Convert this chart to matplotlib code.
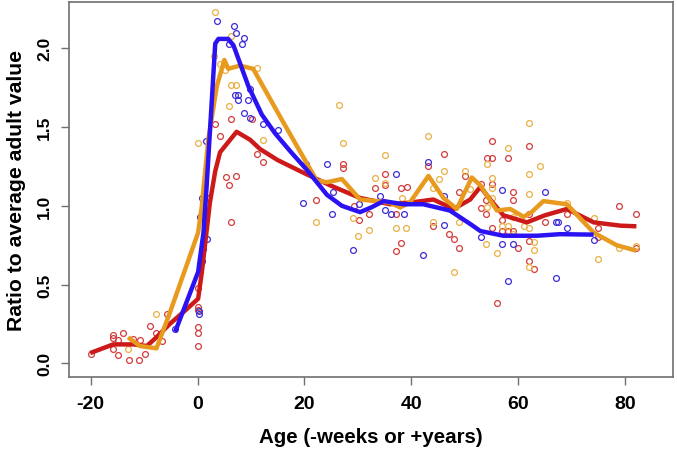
import matplotlib
matplotlib.use("Agg")
import matplotlib.pyplot as plt

plt.rcParams['font.family'] = ['Liberation Sans', 'DejaVu Sans']
plt.rcParams['font.weight'] = 'bold'
plt.rcParams['axes.unicode_minus'] = False

# smoothed curves (age, ratio)
red_line_x = [-20.1, -15.8, -12.0, -9.5, -7.7, -5.2, -2.5, 0.1, 0.8, 2.3, 3.3, 4.2, 7.3, 9.8, 11.7, 15.0,
              19.8, 24.8, 30.4, 36.0, 39.7, 44.1, 47.9, 51.0, 52.9, 55.0, 57.2, 61.6, 65.0, 69.1, 74.1, 79.1, 82.1]
red_line_y = [0.065, 0.12, 0.12, 0.11, 0.165, 0.25, 0.33, 0.41, 0.58, 1.02, 1.22, 1.34, 1.47, 1.42, 1.36, 1.29,
              1.21, 1.13, 1.05, 1.01, 1.02, 1.04, 0.98, 1.04, 1.12, 1.03, 0.94, 0.895, 0.94, 0.98, 0.895, 0.874, 0.87]

orange_line_x = [-13.0, -10.8, -7.7, -5.2, 0.1, 0.8, 2.0, 3.6, 5.0, 5.75, 7.9, 10.4, 15.7, 22.3, 24.2, 27.0,
                 30.4, 33.5, 36.0, 37.9, 39.7, 43.2, 46.0, 48.5, 51.3, 52.9, 56.0, 58.5, 61.0, 62.5, 64.7, 69.1,
                 74.1, 78.4, 82.1]
orange_line_y = [0.165, 0.11, 0.095, 0.32, 0.83, 1.0, 1.42, 1.76, 1.926, 1.87, 1.89, 1.87, 1.55, 1.16, 1.15, 1.17,
                 1.04, 1.03, 1.02, 0.99, 1.02, 1.19, 1.05, 0.98, 1.18, 1.13, 0.97, 0.98, 0.93, 0.96, 1.03, 1.01,
                 0.83, 0.75, 0.715]

blue_line_x = [-4.2, 0.1, 1.1, 1.7, 3.3, 3.9, 5.7, 6.7, 9.5, 12.0, 14.5, 17.5, 20.4, 24.2, 27.0, 30.4, 32.5,
               34.8, 38.5, 42.2, 47.2, 51.0, 52.9, 57.2, 63.5, 67.8, 74.1]
blue_line_y = [0.20, 0.58, 0.83, 1.13, 2.03, 2.06, 2.06, 2.02, 1.76, 1.58, 1.46, 1.34, 1.23, 1.07, 1.0, 0.96, 0.99,
               1.03, 1.01, 1.01, 0.97, 0.885, 0.84, 0.81, 0.81, 0.82, 0.817]

# individual samples
red_pts_x = [-20.0, -15.8, -15.9, -15.8, -14.8, -14.8, -13.9, -12.8, -12.0, -10.8, -10.9, -9.8, -8.9, -7.8,
             -6.7, -5.8, 0.1, 0.1, 0.1, 0.1, 0.1, 0.1, 3.3, 4.2, 5.3, 5.9, 7.2, 6.2, 6.2, 10.1, 11.1, 12.2,
             22.2, 27.2, 27.2, 29.3, 30.2, 32.1, 33.1, 35.1, 35.1, 37.1, 38.0, 39.1, 38.1, 37.1, 43.1, 46.1,
             44.0, 47.1, 48.0, 49.0, 49.0, 50.0, 55.0, 54.1, 55.0, 58.0, 62.0, 53.0, 55.0, 54.0, 53.0, 54.0,
             55.0, 57.0, 57.0, 58.0, 59.1, 59.1, 59.1, 60.0, 62.0, 62.0, 62.0, 63.0, 56.0, 65.0, 69.1, 75.0,
             75.0, 78.9, 82.1, 82.1]
red_pts_y = [0.06, 0.18, 0.16, 0.09, 0.05, 0.15, 0.19, 0.02, 0.155, 0.15, 0.02, 0.06, 0.24, 0.195,
             0.14, 0.31, 0.476, 0.355, 0.34, 0.23, 0.19, 0.11, 1.52, 1.445, 1.18, 1.13, 1.19, 0.895, 1.55, 1.55,
             1.33, 1.28, 1.04, 1.265, 1.24, 1.0, 0.91, 0.95, 1.11, 1.205, 1.13, 0.95, 1.11, 1.12, 0.765, 0.715,
             1.255, 1.33, 0.87, 0.82, 0.79, 0.73, 1.085, 1.19, 1.41, 1.305, 1.305, 1.305, 1.38, 1.14, 1.14,
             1.04, 0.985, 0.95, 0.86, 0.91, 0.84, 0.84, 1.085, 1.04, 0.84, 0.73, 0.945, 0.775, 0.65, 0.6, 0.38,
             0.895, 0.95, 0.86, 0.8, 1.0, 0.95, 0.735]

orange_pts_x = [-7.7, -13.0, 0.1, 3.3, 3.1, 4.1, 5.1, 6.2, 7.2, 5.9, 6.2, 11.1, 12.2, 22.2, 26.5, 27.2, 35.1,
                33.1, 35.1, 29.1, 30.1, 32.1, 37.1, 39.0, 43.1, 46.1, 45.1, 44.1, 44.0, 48.0, 49.0, 50.0, 38.2,
                62.0, 58.0, 54.1, 62.0, 64.0, 55.0, 55.0, 51.0, 54.1, 55.0, 59.1, 57.0, 58.0, 59.1, 54.0, 56.0,
                62.0, 62.0, 63.0, 63.0, 62.0, 61.0, 69.1, 74.1, 75.0, 78.9, 82.1]
orange_pts_y = [0.31, 0.09, 1.40, 2.23, 1.95, 1.90, 1.86, 1.77, 1.77, 1.635, 2.08, 1.875, 1.42, 0.9, 1.64, 1.40,
                1.32, 1.175, 1.145, 0.92, 0.81, 0.845, 0.86, 0.86, 1.445, 1.22, 1.17, 1.11, 0.9, 0.58, 0.895,
                1.22, 1.05, 1.525, 1.37, 1.265, 1.205, 1.255, 1.175, 1.11, 1.105, 0.99, 1.05, 0.93, 0.875, 0.875,
                0.82, 0.755, 0.70, 1.075, 0.86, 0.77, 0.72, 0.61, 0.875, 1.02, 0.92, 0.66, 0.735, 0.745]

blue_pts_x = [3.7, 6.8, 7.2, 8.7, 8.4, 5.9, 7.0, 7.6, 7.6, 9.5, 9.8, 8.6, 9.8, 1.6, 0.8, 1.8, 0.45, 1.8, 1.1,
              0.8, 0.45, 0.3, 0.3, -4.2, 12.2, 15.1, 20.2, 24.2, 19.8, 25.3, 25.2, 29.1, 30.2, 34.1, 35.1, 36.1,
              37.1, 38.6, 43.1, 42.1, 46.1, 46.1, 47.6, 57.0, 65.0, 53.0, 57.0, 59.1, 58.0, 67.1, 67.4, 69.1,
              67.0, 74.1]
blue_pts_y = [2.175, 2.14, 2.10, 2.065, 2.03, 2.03, 1.705, 1.705, 1.67, 1.67, 1.74, 1.59, 1.555, 1.41, 1.05,
              1.05, 0.93, 0.79, 0.725, 0.65, 0.63, 0.335, 0.31, 0.22, 1.52, 1.48, 1.265, 1.265, 1.02, 1.09,
              0.95, 0.72, 1.01, 1.065, 0.975, 0.945, 1.205, 0.95, 1.28, 0.69, 1.065, 0.88, 0.985, 1.10, 1.085,
              0.805, 0.76, 0.76, 0.52, 0.9, 0.9, 0.86, 0.54, 0.78]

fig = plt.figure(figsize=(6.77, 4.52), dpi=100)
ax = fig.add_axes([0.1024, 0.163, 0.8913, 0.8296])

pt_style = dict(marker='o', linestyle='none', markersize=4.2, markerfacecolor='none', markeredgewidth=0.9)
ax.plot(red_pts_x, red_pts_y, markeredgecolor='#d23c3c', **pt_style)
ax.plot(orange_pts_x, orange_pts_y, markeredgecolor='#e9b043', **pt_style)
ax.plot(blue_pts_x, blue_pts_y, markeredgecolor='#3d2ed6', **pt_style)

ax.plot(red_line_x, red_line_y, color='#cc1a1a', lw=3.2, solid_capstyle='butt')
ax.plot(orange_line_x, orange_line_y, color='#e89a1e', lw=3.2, solid_capstyle='butt')
ax.plot(blue_line_x, blue_line_y, color='#2a12f2', lw=3.2, solid_capstyle='butt')

ax.set_xlim(-24.0, 88.9)
ax.set_ylim(-0.089, 2.292)
ax.set_xticks([-20, 0, 20, 40, 60, 80])
ax.set_yticks([0.0, 0.5, 1.0, 1.5, 2.0])
ax.set_yticklabels(['0.0', '0.5', '1.0', '1.5', '2.0'], rotation=90, va='center')

for s in ax.spines.values():
    s.set_color('#707070')
    s.set_linewidth(1.2)
ax.tick_params(axis='both', direction='out', length=5.5, width=1.0, color='#707070')
ax.tick_params(axis='x', labelsize=14, pad=7)
ax.tick_params(axis='y', labelsize=12.5, pad=7)

ax.set_xlabel('Age (-weeks or +years)', fontsize=14.8, fontweight='bold', labelpad=11)
ax.set_ylabel('Ratio to average adult value', fontsize=15.2, fontweight='bold', labelpad=8)

fig.savefig('out.png', dpi=100)
